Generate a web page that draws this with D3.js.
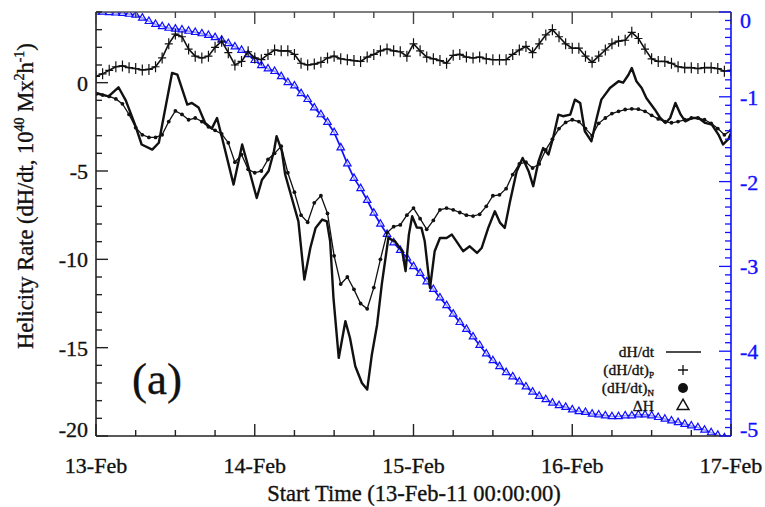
<!DOCTYPE html>
<html><head><meta charset="utf-8">
<script src="https://cdn.jsdelivr.net/npm/d3@7"></script>
<style>body{margin:0;background:#fff}svg{display:block}text{font-family:"Liberation Serif","Times New Roman",serif}</style>
</head><body><svg id="c" width="765" height="507"></svg>
<script>
// ---- data (hours since 13-Feb-11 00:00) ----
const dayLabels = ["13-Feb","14-Feb","15-Feb","16-Feb","17-Feb"];
const leftTicks = [0,-5,-10,-15,-20];
const rightTicks = [0,-1,-2,-3,-4,-5];

const hourly = d3.range(0,97); // sample times, hours

const dhdtPHours = hourly;
const dhdtP = [0.36,0.5,0.7,0.9,0.95,0.85,0.8,0.72,0.75,0.9,1.4,2.2,2.75,2.6,1.9,1.5,1.4,1.5,2.0,2.35,1.7,1.0,1.2,1.75,1.4,
1.3,1.6,1.85,1.8,1.8,1.6,1.1,1.0,1.05,1.15,1.4,1.5,1.35,1.3,1.25,1.2,1.45,1.6,1.8,1.9,1.8,1.75,1.5,2.2,
1.8,1.45,1.35,1.25,1.1,1.55,1.6,1.45,1.4,1.45,1.35,1.3,1.3,1.3,1.6,1.85,2.05,1.7,2.2,2.7,3.0,2.6,2.2,1.95,
1.95,1.5,1.15,1.5,1.85,2.2,2.35,2.4,2.85,2.5,1.9,1.35,1.2,1.2,1.1,0.9,0.85,0.85,0.8,0.85,0.85,0.8,0.65,0.7];

const dhdtNHours = hourly;
const dhdtN = [-0.65,-0.7,-0.78,-0.92,-1.2,-1.8,-2.55,-2.95,-3.1,-3.1,-2.95,-2.2,-1.6,-1.8,-2.1,-2.0,-2.2,-2.5,-2.7,-2.9,-3.4,-4.5,-4.07,-4.9,-5.1,
-5.0,-4.35,-4.0,-3.6,-5.1,-6.2,-7.5,-7.9,-6.8,-6.4,-7.4,-9.8,-11.4,-11.0,-11.7,-12.5,-12.8,-11.6,-10.0,-8.5,-8.15,-8.05,-7.5,-7.1,
-7.7,-8.3,-7.8,-7.2,-7.1,-7.2,-7.35,-7.5,-7.55,-7.45,-7.0,-6.4,-6.35,-6.0,-5.2,-4.6,-4.5,-4.83,-4.6,-3.8,-3.2,-2.6,-2.25,-2.1,
-2.2,-2.6,-3.0,-2.3,-2.0,-1.75,-1.62,-1.52,-1.48,-1.5,-1.62,-1.85,-2.05,-2.2,-2.27,-2.2,-2.1,-2.0,-2.0,-2.1,-2.3,-2.6,-2.95,-2.7];

const dhdtHours = [0,1.9,3.4,4.5,5.9,6.9,8.5,9.5,10.2,11.5,12.3,13.8,14.5,15.5,16.5,17.5,18.3,19.0,20.8,22.1,22.8,24.3,25.1,26.1,26.9,27.3,28.1,28.6,29.6,30.6,31.5,32.4,33.2,34.2,34.9,35.4,35.9,36.7,37.7,38.4,39.2,40.2,41.0,41.7,42.5,43.2,44.2,45.2,46.3,46.8,47.3,47.8,48.5,49.2,49.7,50.5,51.2,52.0,53.0,53.8,54.5,55.5,56.5,57.6,58.3,59.3,60.3,61.1,61.8,62.6,63.6,64.5,65.4,66.1,66.9,67.6,68.4,69.1,69.9,70.6,71.7,72.4,73.2,73.9,74.9,75.7,76.4,77.7,79.0,79.7,80.5,81.0,81.7,82.5,83.2,84.5,85.3,86.1,86.8,87.6,88.4,89.1,90.1,91.1,92.1,93.1,94.1,94.8,95.6,96];
const dhdt = [-0.58,-0.78,-0.26,-1.0,-2.38,-3.5,-3.79,-3.4,-2.0,0.55,0.45,-1.24,-1.15,-1.4,-2.28,-2.6,-2.0,-3.03,-5.77,-3.5,-4.45,-6.53,-5.49,-5.0,-3.88,-3.03,-3.88,-5.2,-6.53,-7.85,-11.15,-9.36,-8.22,-7.75,-7.85,-8.98,-12.18,-15.58,-13.5,-14.45,-16.05,-17.0,-17.37,-15.4,-13.7,-11.43,-8.79,-8.98,-9.54,-10.67,-8.6,-7.56,-8.2,-8.22,-8.98,-11.62,-9.54,-8.79,-8.79,-8.6,-8.98,-9.54,-9.26,-9.64,-9.36,-8.22,-7.28,-7.94,-8.22,-6.71,-5.01,-4.26,-5.01,-5.86,-4.45,-3.7,-4.07,-3.13,-1.81,-1.9,-1.81,-0.96,-1.15,-2.75,-3.32,-2.0,-0.96,-0.3,0.08,0.0,0.45,0.83,0.08,-0.3,-0.87,-1.53,-2.0,-2.28,-2.0,-1.15,-1.81,-2.19,-2.0,-2.0,-2.28,-2.37,-2.94,-3.5,-3.2,-2.85];

const deltaHHours = hourly;
const deltaH = [0,0,-0.005,-0.01,-0.015,-0.025,-0.035,-0.07,-0.11,-0.145,-0.17,-0.19,-0.2,-0.21,-0.225,-0.24,-0.255,-0.275,-0.3,-0.33,-0.37,-0.41,-0.45,-0.5,-0.57,
-0.63,-0.67,-0.7,-0.76,-0.83,-0.87,-0.96,-1.03,-1.13,-1.21,-1.3,-1.42,-1.6,-1.79,-1.96,-2.08,-2.22,-2.37,-2.5,-2.62,-2.72,-2.81,-2.9,-3.0,
-3.08,-3.18,-3.27,-3.37,-3.46,-3.56,-3.66,-3.74,-3.83,-3.93,-4.03,-4.11,-4.18,-4.25,-4.3,-4.36,-4.42,-4.48,-4.53,-4.57,-4.61,-4.64,-4.66,-4.69,
-4.71,-4.72,-4.74,-4.75,-4.76,-4.77,-4.77,-4.76,-4.76,-4.75,-4.75,-4.76,-4.78,-4.8,-4.82,-4.84,-4.86,-4.88,-4.9,-4.93,-4.96,-4.99,-5.02,-5.05];

// ---- layout ----
const svg = d3.select("#c");
const L=96, R=731, T=12, B=436;
const x = d3.scaleLinear().domain([0,96]).range([L,R]);
const y = d3.scaleLinear().domain([-20,4]).range([B,T]);
const y2 = d3.scaleLinear().domain([-5,0]).range([B,T]);
const blue = "#1010ff";

svg.append("clipPath").attr("id","clip").append("rect").attr("x",L).attr("y",T).attr("width",R-L).attr("height",B-T);
const plot = svg.append("g").attr("clip-path","url(#clip)");

// ΔH
plot.append("path").datum(deltaH).attr("fill","none").attr("stroke",blue).attr("stroke-width",1.7)
  .attr("d", d3.line().x((d,i)=>x(deltaHHours[i])).y(d=>y2(d)));
const tri = d3.symbol().type(d3.symbolTriangle).size(24);
plot.append("g").selectAll("path").data(deltaH).join("path")
  .attr("transform",(d,i)=>`translate(${x(deltaHHours[i])},${y2(d)})`)
  .attr("d",tri).attr("fill","#fff").attr("fill-opacity",0.6).attr("stroke",blue).attr("stroke-width",1.2);

// P
plot.append("path").datum(dhdtP).attr("fill","none").attr("stroke","#111").attr("stroke-width",1.6)
  .attr("d", d3.line().x((d,i)=>x(dhdtPHours[i])).y(d=>y(d)));
plot.append("g").selectAll("path").data(dhdtP).join("path")
  .attr("d",(d,i)=>{const cx=x(dhdtPHours[i]), cy=y(d); return `M${cx-4},${cy}H${cx+4}M${cx},${cy-5.5}V${cy+5.5}`;})
  .attr("stroke","#111").attr("stroke-width",1.2);

// N
plot.append("path").datum(dhdtN).attr("fill","none").attr("stroke","#111").attr("stroke-width",1.3)
  .attr("d", d3.line().x((d,i)=>x(dhdtNHours[i])).y(d=>y(d)));
plot.append("g").selectAll("circle").data(dhdtN).join("circle")
  .attr("cx",(d,i)=>x(dhdtNHours[i])).attr("cy",d=>y(d)).attr("r",1.9).attr("fill","#111");

// dH/dt
plot.append("path").datum(dhdt).attr("fill","none").attr("stroke","#111").attr("stroke-width",2.4).attr("stroke-linejoin","round")
  .attr("d", d3.line().x((d,i)=>x(dhdtHours[i])).y(d=>y(d)));

// ---- axes ----
const ax = svg.append("g");
ax.append("line").attr("x1",L).attr("x2",R).attr("y1",B).attr("y2",B).attr("stroke","#222").attr("stroke-width",1.6);
ax.append("line").attr("x1",L).attr("x2",R).attr("y1",T).attr("y2",T).attr("stroke","#555").attr("stroke-width",1.6);
ax.append("line").attr("x1",L).attr("x2",L).attr("y1",T).attr("y2",B).attr("stroke","#222").attr("stroke-width",1.6);
ax.append("line").attr("x1",R).attr("x2",R).attr("y1",T).attr("y2",B).attr("stroke",blue).attr("stroke-width",1.6);

const txt = sel => sel.attr("stroke","#111").attr("stroke-width",0.35);

// x ticks (every 6 h minor, 24 h major) bottom & top
const xt = d3.range(0,97,6);
ax.selectAll(".xb").data(xt).join("line").attr("x1",d=>x(d)).attr("x2",d=>x(d))
  .attr("y1",B).attr("y2",d=>B-(d%24===0?12:6)).attr("stroke","#222").attr("stroke-width",1.4);
ax.selectAll(".xtp").data(xt).join("line").attr("x1",d=>x(d)).attr("x2",d=>x(d))
  .attr("y1",T).attr("y2",d=>T+(d%24===0?12:6)).attr("stroke","#444").attr("stroke-width",1.4);
ax.selectAll(".xl").data(dayLabels).join("text").attr("x",(d,i)=>x(i*24)).attr("y",473)
  .attr("text-anchor","middle").attr("font-size",22).attr("fill","#111").text(d=>d).call(txt);

// left y ticks
const ytMinor = d3.range(-20,5,1);
ax.selectAll(".yl").data(ytMinor).join("line").attr("x1",L).attr("x2",d=>L+(d%5===0?12:6))
  .attr("y1",d=>y(d)).attr("y2",d=>y(d)).attr("stroke","#222").attr("stroke-width",1.4);
ax.selectAll(".ylt").data(leftTicks).join("text").attr("x",L-8)
  .attr("y",d=>d===-20? B+1 : y(d)+8).attr("text-anchor","end").attr("font-size",22).attr("fill","#111").text(d=>d).call(txt);

// right y ticks
const y2Minor = d3.range(-50,1,1).map(d=>d/10);
ax.selectAll(".yr").data(y2Minor).join("line").attr("x1",R).attr("x2",(d,i)=>R-((i%10===0)?12:6))
  .attr("y1",d=>y2(d)).attr("y2",d=>y2(d)).attr("stroke",blue).attr("stroke-width",1.3);
ax.selectAll(".yrt").data(rightTicks).join("text").attr("x",R+9)
  .attr("y",d=>d===0? T+16 : d===-5 ? B+1 : y2(d)+8).attr("font-size",22).attr("fill",blue)
  .attr("stroke",blue).attr("stroke-width",0.35).text(d=>d);

// axis titles
svg.append("text").attr("x",414).attr("y",501).attr("text-anchor","middle").attr("font-size",22.5).attr("fill","#111")
  .text("Start Time (13-Feb-11 00:00:00)").call(txt);
const yt = svg.append("text").attr("transform","translate(33,196) rotate(-90)").attr("text-anchor","middle")
  .attr("font-size",22.5).attr("fill","#111").call(txt);
yt.append("tspan").text("Helicity Rate (dH/dt, 10");
yt.append("tspan").attr("font-size",14).attr("dy",-9).text("40");
yt.append("tspan").attr("dy",9).text(" Mx");
yt.append("tspan").attr("font-size",14).attr("dy",-9).text("2");
yt.append("tspan").attr("dy",9).text("h");
yt.append("tspan").attr("font-size",14).attr("dy",-9).text("-1");
yt.append("tspan").attr("dy",9).text(")");

// panel label
svg.append("text").attr("x",132).attr("y",394).attr("font-size",45).attr("fill","#111").text("(a)").call(txt);

// legend
const lg = svg.append("g").attr("font-size",15.5).attr("fill","#111");
const lx = 654, sx = 683;
lg.append("text").attr("x",lx).attr("y",357).attr("text-anchor","end").text("dH/dt").call(txt);
lg.append("line").attr("x1",666).attr("x2",701).attr("y1",352).attr("y2",352).attr("stroke","#111").attr("stroke-width",1.4);
const t2 = lg.append("text").attr("x",lx).attr("y",375).attr("text-anchor","end").call(txt);
t2.append("tspan").text("(dH/dt)"); t2.append("tspan").attr("font-size",9).attr("dy",3).text("P");
lg.append("path").attr("d",`M${sx-5},370H${sx+5}M${sx},365V375`).attr("stroke","#111").attr("stroke-width",1.3);
const t3 = lg.append("text").attr("x",lx).attr("y",393).attr("text-anchor","end").call(txt);
t3.append("tspan").text("(dH/dt)"); t3.append("tspan").attr("font-size",9).attr("dy",3).text("N");
lg.append("circle").attr("cx",sx).attr("cy",388).attr("r",5).attr("fill","#111");
lg.append("text").attr("x",lx).attr("y",411).attr("text-anchor","end").text("ΔH").call(txt);
lg.append("path").attr("d",d3.symbol().type(d3.symbolTriangle).size(60)).attr("transform",`translate(${sx},406)`)
  .attr("fill","none").attr("stroke","#111").attr("stroke-width",1.5);
</script></body></html>
